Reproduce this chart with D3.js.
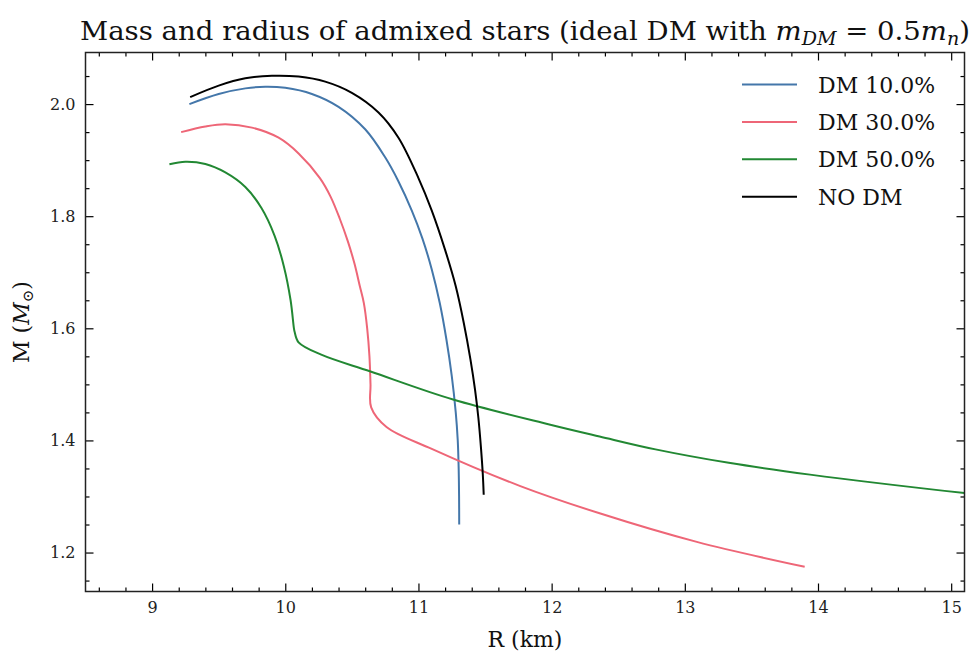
<!DOCTYPE html>
<html>
<head>
<meta charset="utf-8">
<script src="https://cdn.jsdelivr.net/npm/d3@7"></script>
<style>
  body { margin: 0; background: #fff; }
  svg text { font-family: "DejaVu Serif", serif; }
</style>
</head>
<body>
<svg id="chart" width="974" height="655"></svg>
<script>
// --- data (R in km, M in solar masses) ---
const seriesNames = ['DM 10.0%', 'DM 30.0%', 'DM 50.0%', 'NO DM'];
const seriesColors = ['#4477AA', '#EE6677', '#228833', '#000000'];

const dm10R = [9.28, 9.5, 9.7, 9.85, 10.0, 10.2, 10.4, 10.6, 10.75, 10.85, 10.95, 11.03, 11.1, 11.16, 11.21, 11.25, 11.28, 11.295, 11.302, 11.305, 11.306];
const dm10M = [2.0, 2.018, 2.028, 2.031, 2.029, 2.018, 1.995, 1.955, 1.905, 1.862, 1.81, 1.76, 1.705, 1.645, 1.58, 1.515, 1.45, 1.40, 1.35, 1.30, 1.25];

const dm30R = [9.218, 9.4, 9.55, 9.75, 9.95, 10.1, 10.26, 10.34, 10.41, 10.47, 10.52, 10.56, 10.59, 10.615, 10.632, 10.64, 10.645, 10.76, 11.1, 11.76, 12.36, 13.09, 13.9];
const dm30M = [1.950, 1.960, 1.964, 1.958, 1.940, 1.912, 1.868, 1.835, 1.795, 1.755, 1.715, 1.675, 1.645, 1.60, 1.55, 1.50, 1.459, 1.424, 1.385, 1.319, 1.270, 1.219, 1.1746];

const dm50R = [9.13, 9.25, 9.4, 9.55, 9.7, 9.82, 9.92, 9.99, 10.04, 10.065, 10.07, 10.10, 10.27, 10.64, 11.26, 11.99, 12.36, 12.78, 13.33, 13.94, 15.10, 15.3];
const dm50M = [1.8925, 1.897, 1.893, 1.878, 1.852, 1.815, 1.765, 1.71, 1.65, 1.60, 1.594, 1.575, 1.553, 1.523, 1.473, 1.428, 1.407, 1.384, 1.360, 1.339, 1.306, 1.301];

const noDmR = [9.286, 9.5, 9.7, 9.9, 10.1, 10.3, 10.5, 10.7, 10.85, 11.0, 11.1, 11.2, 11.28, 11.34, 11.39, 11.425, 11.45, 11.47, 11.483, 11.49];
const noDmM = [2.0125, 2.033, 2.046, 2.0505, 2.049, 2.04, 2.02, 1.985, 1.94, 1.868, 1.81, 1.74, 1.675, 1.61, 1.545, 1.49, 1.44, 1.385, 1.34, 1.303];

const xTicks = [9, 10, 11, 12, 13, 14, 15];
const yTicks = [1.2, 1.4, 1.6, 1.8, 2.0];

const seriesR = [dm10R, dm30R, dm50R, noDmR];
const seriesM = [dm10M, dm30M, dm50M, noDmM];

// --- layout ---
const svg = d3.select('#chart');
const pLeft = 85.5, pRight = 964.5, pTop = 52.5, pBottom = 591.5;
const serif = '"DejaVu Serif", serif';

const x = d3.scaleLinear().domain([8.5, 15.1]).range([pLeft, pRight]);
const y = d3.scaleLinear().domain([1.1305, 2.092]).range([pBottom, pTop]);

// clip area
svg.append('clipPath').attr('id', 'plot-clip')
  .append('rect').attr('x', pLeft).attr('y', pTop)
  .attr('width', pRight - pLeft).attr('height', pBottom - pTop);

// lines
const line = d3.line()
  .x(d => x(d[0])).y(d => y(d[1]))
  .curve(d3.curveCatmullRom.alpha(0.5));
const plot = svg.append('g').attr('clip-path', 'url(#plot-clip)');
seriesR.forEach((rs, i) => {
  const pts = rs.map((r, j) => [r, seriesM[i][j]]);
  plot.append('path')
    .datum(pts)
    .attr('fill', 'none')
    .attr('stroke', seriesColors[i])
    .attr('stroke-width', 2)
    .attr('stroke-linejoin', 'round')
    .attr('d', line);
});

// --- axes: ticks inside on all four sides ---
const xMinor = d3.range(8.6, 15.1, 0.2).filter(v => Math.abs(v - Math.round(v)) > 1e-6);
const yMinor = d3.range(1.15, 2.09, 0.05).filter(v => Math.abs(v * 5 - Math.round(v * 5)) > 1e-6);

function addAxis(axisFn, scale, major, minor, transform, fmt) {
  const gMin = svg.append('g').attr('transform', transform)
    .call(axisFn(scale).tickValues(minor).tickSize(-4).tickFormat(''));
  const gMaj = svg.append('g').attr('transform', transform)
    .call(axisFn(scale).tickValues(major).tickSize(-8).tickPadding(10)
      .tickFormat(fmt || (() => '')));
  [gMin, gMaj].forEach(g => {
    g.attr('font-family', serif);
    g.select('.domain').remove();
    g.selectAll('.tick line').attr('stroke', '#000').attr('stroke-width', 1.2);
  });
  gMaj.selectAll('text').attr('font-size', 16).attr('fill', '#222');
  return gMaj;
}

addAxis(d3.axisBottom, x, xTicks, xMinor, `translate(0,${pBottom})`, d3.format('d'));
addAxis(d3.axisTop, x, xTicks, xMinor, `translate(0,${pTop})`, null);
addAxis(d3.axisLeft, y, yTicks, yMinor, `translate(${pLeft},0)`, d3.format('.1f'));
addAxis(d3.axisRight, y, yTicks, yMinor, `translate(${pRight},0)`, null);

// frame
svg.append('rect')
  .attr('x', pLeft).attr('y', pTop)
  .attr('width', pRight - pLeft).attr('height', pBottom - pTop)
  .attr('fill', 'none').attr('stroke', '#222').attr('stroke-width', 1.5);

// --- labels ---
const title = svg.append('text')
  .attr('x', (pLeft + pRight) / 2).attr('y', 40)
  .attr('text-anchor', 'middle').attr('font-size', 26).attr('fill', '#111')
  .attr('font-family', serif)
  .attr('textLength', 890).attr('lengthAdjust', 'spacingAndGlyphs');
title.append('tspan').text('Mass and radius of admixed stars (ideal DM with ');
title.append('tspan').attr('font-style', 'italic').text('m');
title.append('tspan').attr('font-style', 'italic').attr('font-size', 18).attr('dy', 5).text('DM');
title.append('tspan').attr('dy', -5).text(' = 0.5');
title.append('tspan').attr('font-style', 'italic').text('m');
title.append('tspan').attr('font-style', 'italic').attr('font-size', 18).attr('dy', 5).text('n');
title.append('tspan').attr('dy', -5).text(')');

svg.append('text')
  .attr('x', (pLeft + pRight) / 2).attr('y', 647)
  .attr('text-anchor', 'middle').attr('font-size', 22).attr('fill', '#111')
  .attr('font-family', serif)
  .text('R (km)');

const ylab = svg.append('text')
  .attr('transform', `translate(29,${(pTop + pBottom) / 2}) rotate(-90)`)
  .attr('text-anchor', 'middle').attr('font-size', 22).attr('fill', '#111')
  .attr('font-family', serif);
ylab.append('tspan').text('M (');
ylab.append('tspan').attr('font-style', 'italic').text('M');
ylab.append('tspan').attr('font-size', 15).attr('dy', 4).text('⊙');
ylab.append('tspan').attr('dy', -4).text(')');

// --- legend ---
const legend = svg.append('g');
seriesNames.forEach((name, i) => {
  const ly = 84.5 + i * 37.4;
  legend.append('line')
    .attr('x1', 742).attr('x2', 797).attr('y1', ly).attr('y2', ly)
    .attr('stroke', seriesColors[i]).attr('stroke-width', 2);
  legend.append('text')
    .attr('x', 818).attr('y', ly + 8)
    .attr('font-size', 22).attr('fill', '#111')
    .attr('font-family', serif)
    .text(name);
});
</script>
</body>
</html>
